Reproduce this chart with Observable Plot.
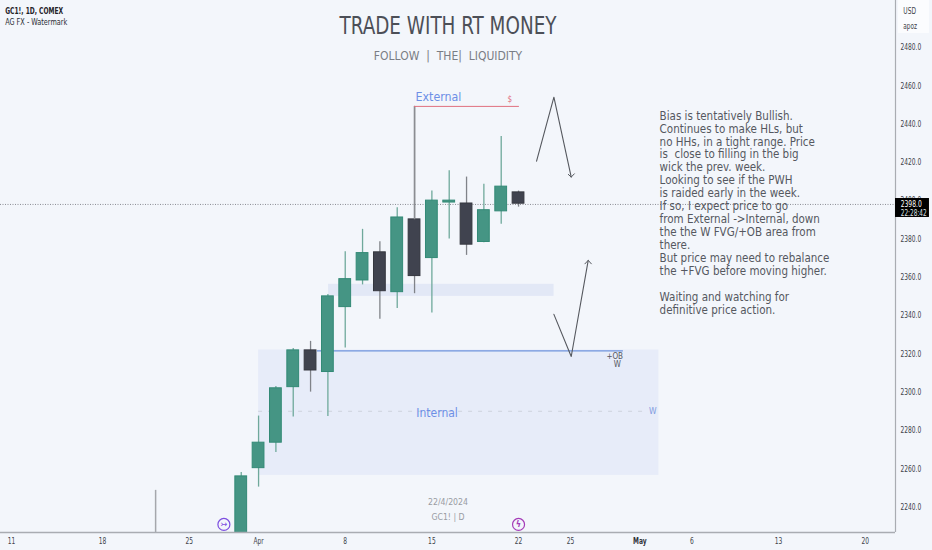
<!DOCTYPE html>
<html><head><meta charset="utf-8">
<script src="https://cdn.jsdelivr.net/npm/d3@7"></script>
<script src="https://cdn.jsdelivr.net/npm/@observablehq/plot@0.6"></script>
<style>html,body{margin:0;padding:0;background:#f3f6fb;overflow:hidden}svg{display:block}</style>
</head><body><div id="c"></div>
<script>
const FONT = "'DejaVu Sans Condensed','DejaVu Sans',sans-serif";
// trading-day index (0 = 1 Apr 2024)
const idx   = [-1,0,1,2,3,4,5,6,7,8,9,10,11,12,13,14,15];
const open  = [2215,2260.3,2273.6,2302.6,2321.8,2310.5,2344.4,2358.3,2373,2352.2,2390.2,2370,2399,2398.5,2378.4,2394.4,2404.3];
const close = [2256,2273.6,2302,2321.8,2311.3,2350,2359,2372.6,2352.7,2391.2,2360.6,2400,2400,2377,2395,2407.3,2398.4];
const high  = [2258,2287.5,2303,2322.8,2326.5,2351,2373.3,2385,2378.5,2396.3,2449.2,2405,2415.6,2412.3,2408.5,2433.5,2405];
const low   = [2210,2250.4,2268.5,2287,2300,2287.3,2323,2356,2338,2343.7,2351.4,2341.3,2380,2371.4,2378,2387.7,2396.6];
const candles = idx.map((d,k)=>({i:d,o:open[k],c:close[k],h:high[k],l:low[k]}));
const oldWick = [{i:-5.94,l:2210,h:2248.7}];

const yTicks = [2240,2260,2280,2300,2320,2340,2360,2380,2400,2420,2440,2460,2480];
const xTickIdx = [-14.25,-9,-4,0,5,10,15,18,22,25,30,35];
const xTickLab = ["11","18","25","Apr","8","15","22","25","May","6","13","20"];
const xLabel = i => xTickLab[xTickIdx.indexOf(i)];

const zones = [
  {x1:0,x2:23.1,y1:2256.5,y2:2322,fill:"#e7ecf9"},
  {x1:4.04,x2:17.05,y1:2350,y2:2356.3,fill:"#e2e8f6"}
];
const noteLines = ["Bias is tentatively Bullish.","Continues to make HLs, but","no HHs, in a tight range. Price","is  close to filling in the big","wick the prev. week.","Looking to see if the PWH","is raided early in the week.","If so, I expect price to go","from External ->Internal, down","the the W FVG/+OB area from","there.","But price may need to rebalance","the +FVG before moving higher.","","Waiting and watching for","definitive price action."];
const arrowUp = [{i:16.04,p:2420.6},{i:17.04,p:2454},{i:18.04,p:2412.3}];
const arrowDown = [{i:17.04,p:2340.6},{i:18.04,p:2318.6},{i:19.02,p:2368.8}];
const heads = [
  [{i:17.87,p:2413.7},{i:18.04,p:2412.3},{i:18.22,p:2414}],
  [{i:18.83,p:2367},{i:19.02,p:2368.8},{i:19.2,p:2367}]
];
const priceNow = 2398;
const TITLE = "TRADE WITH RT MONEY", SYMBOL = "GC1!, 1D, COMEX", STUDY = "AG FX - Watermark";
const PRICE_TAG = "2398.0", CLOCK = "22:28:42";

const plot = Plot.plot({
  width:932,height:550,marginLeft:0,marginTop:0,marginRight:37,marginBottom:18,
  style:{background:"#f3f6fb",fontFamily:FONT},
  x:{type:"linear",domain:[-14.89,36.75],range:[0,895]},
  y:{type:"linear",domain:[2226.7,2504.5],range:[532,0]},
  marks:[
    Plot.rect(zones,{x1:"x1",x2:"x2",y1:"y1",y2:"y2",fill:"fill"}),
    Plot.ruleY([2290],{x1:0,x2:22.3,stroke:"#cdd2dc",strokeWidth:1,strokeDasharray:"4 6"}),
    Plot.ruleY([priceNow],{x1:-14.89,x2:36.75,stroke:"#8a8d94",strokeWidth:1,strokeDasharray:"1 1.5"}),
    Plot.ruleY([2321.5],{x1:3.4,x2:21.05,stroke:"#6f93dc",strokeWidth:1.2}),
    Plot.ruleX(oldWick,{x:"i",y1:"l",y2:"h",stroke:"#a5a7ac",strokeWidth:1.5,clip:true}),
    Plot.ruleX(candles,{x:"i",y1:"l",y2:"h",stroke:d=>d.c>=d.o?"#6fa99b":"#808389",strokeWidth:1.3,clip:true}),
    Plot.rect(candles,{x1:d=>d.i-.34,x2:d=>d.i+.34,y1:"o",y2:"c",fill:d=>d.c>=d.o?"#459584":"#40434f",stroke:d=>d.c>=d.o?"#338a76":"#35373f",strokeWidth:1,clip:true}),
    Plot.ruleX([9],{y1:2390,y2:2449.2,stroke:"#8b8d92",strokeWidth:1.5}),
    Plot.ruleY([2449.2],{x1:9,x2:15.05,stroke:"#e0707f",strokeWidth:1}),
    Plot.text(["External"],{x:10.38,y:2454.2,fill:"#6d8fe6",fontSize:12.3}),
    Plot.text(["$"],{x:14.5,y:2452.7,fill:"#e2707f",fontSize:8}),
    Plot.text(["Internal"],{x:10.3,y:2289,fill:"#6d8fe6",fontSize:12}),
    Plot.text(["+OB"],{x:20.55,y:2318.6,fill:"#55585f",fontSize:8}),
    Plot.text(["W"],{x:20.7,y:2314.6,fill:"#55585f",fontSize:8}),
    Plot.text(["W"],{x:22.75,y:2290,fill:"#7f9be0",fontSize:8.5}),
    Plot.line(arrowUp,{x:"i",y:"p",stroke:"#55585e",strokeWidth:1.1}),
    Plot.line(arrowDown,{x:"i",y:"p",stroke:"#55585e",strokeWidth:1.1}),
    ...heads.map(h=>Plot.line(h,{x:"i",y:"p",stroke:"#55585e",strokeWidth:1})),
    Plot.text([noteLines.join("\n")],{x:23.14,y:2447.1,textAnchor:"start",lineAnchor:"top",lineHeight:1.126,fontSize:11.5,fill:"#55585f"}),
    Plot.text([TITLE],{x:10.93,y:2490.8,fontSize:24,fill:"#4c4f57"}),
    Plot.text(["FOLLOW  |  THE|  LIQUIDITY"],{x:10.93,y:2475.5,fontSize:12,fill:"#7a7d85"}),
    Plot.text(["22/4/2024"],{x:10.93,y:2242.6,fontSize:8.7,fill:"#999ca3"}),
    Plot.text(["GC1! | D"],{x:10.93,y:2234.6,fontSize:8.7,fill:"#999ca3"}),
    Plot.text([SYMBOL],{x:-14.62,y:2499,textAnchor:"start",fontSize:9,fontWeight:"bold",fill:"#1f2228"}),
    Plot.text([STUDY],{x:-14.62,y:2493.3,textAnchor:"start",fontSize:9,fill:"#2a2d33"}),
    Plot.dot([{i:-2,p:2230.9}],{x:"i",y:"p",r:6,fill:"#f3f6fb",stroke:"#7d4fe0",strokeWidth:1.2}),
    Plot.text(["↣"],{x:-2,y:2230.9,fontSize:9,fill:"#7d4fe0"}),
    Plot.dot([{i:15,p:2230.9}],{x:"i",y:"p",r:6,fill:"#f3f6fb",stroke:"#a43cb8",strokeWidth:1.2}),
    Plot.text(["ϟ"],{x:15,y:2230.9,fontSize:9,fontWeight:"bold",fill:"#a43cb8"}),
    Plot.ruleX([36.75],{y1:2226.7,y2:2504.5,stroke:"#a9acb2",strokeWidth:1.2}),
    Plot.ruleY([2226.7],{x1:-14.89,x2:36.75,stroke:"#a9acb2",strokeWidth:1.4}),
    Plot.axisY({anchor:"right",ticks:yTicks,tickSize:0,tickPadding:5,label:null,tickFormat:d=>d.toFixed(1),fontSize:8.8,fill:"#40434a"}),
    Plot.axisX(xTickIdx.filter(i=>xLabel(i)!=="May"),{anchor:"bottom",ticks:xTickIdx.filter(i=>xLabel(i)!=="May"),tickSize:0,tickPadding:5,label:null,tickFormat:xLabel,fontSize:8.8,fill:"#40434a"}),
    Plot.axisX([22],{anchor:"bottom",ticks:[22],tickSize:0,tickPadding:5,label:null,tickFormat:xLabel,fontSize:8.8,fontWeight:"bold",fill:"#30333a"}),
    Plot.rect([0],{x1:36.92,x2:38.71,y1:2487.3,y2:2504.5,fill:"#fbfcfe"}),
    Plot.text(["USD"],{x:37.2,y:2499,textAnchor:"start",fontSize:8.8,fill:"#40434a"}),
    Plot.text(["apoz"],{x:37.2,y:2491,textAnchor:"start",fontSize:8.5,fill:"#40434a"}),
    Plot.rect([0],{x1:36.75,x2:38.71,y1:2391.2,y2:2401.1,fill:"#000"}),
    Plot.text([PRICE_TAG],{x:37.05,y:2398.4,textAnchor:"start",fontSize:8.8,fill:"#fff"}),
    Plot.text([CLOCK],{x:37.05,y:2393.7,textAnchor:"start",fontSize:8.8,fill:"#dfe1e5"})
  ]
});
document.getElementById("c").appendChild(plot);
// squeeze a few labels to the reference's narrower typeface, keeping them as real text
const exact = new Map([[TITLE,217],[SYMBOL,58],[STUDY,62],[PRICE_TAG,21],[CLOCK,26]]);
const narrow = new Set([...yTicks.map(d=>d.toFixed(1)),...xTickLab,"USD","apoz"]);
plot.querySelectorAll("text").forEach(t=>{
  if (t.querySelector("tspan")) return;
  const s = t.textContent;
  const len = exact.has(s) ? exact.get(s) : narrow.has(s) ? t.getComputedTextLength()*0.75 : null;
  if (len){ t.setAttribute("textLength",len); t.setAttribute("lengthAdjust","spacingAndGlyphs"); }
});
</script></body></html>
